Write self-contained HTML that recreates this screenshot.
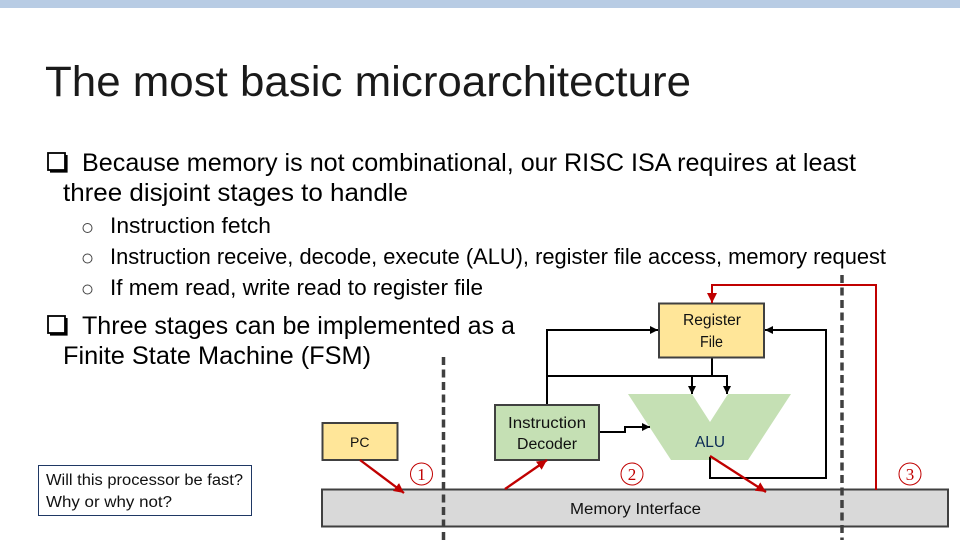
<!DOCTYPE html>
<html><head><meta charset="utf-8"><style>
html,body{margin:0;padding:0;background:#fff}
svg{display:block}
text{font-family:"Liberation Sans",sans-serif;fill:#000}
.l{font-size:25px}.s{font-size:22px}.b{font-size:15.5px;fill:#111}
.n{font-family:"Liberation Serif",serif;font-size:17px;fill:#c00000}
</style></head><body>
<svg width="960" height="540" viewBox="0 0 960 540" xmlns="http://www.w3.org/2000/svg">
<defs>
<marker id="k" markerUnits="userSpaceOnUse" markerWidth="10" markerHeight="10" refX="8" refY="5" orient="auto"><path d="M0 1L8 5L0 9z" fill="#000"/></marker>
<marker id="r" markerUnits="userSpaceOnUse" markerWidth="12" markerHeight="12" refX="10" refY="6" orient="auto"><path d="M0 1L10 6L0 11z" fill="#c00000"/></marker>
</defs>
<rect width="960" height="8" fill="#b8cce4"/>
<text x="45" y="96" font-size="43" textLength="646" lengthAdjust="spacingAndGlyphs" style="fill:#1a1a1a">The most basic microarchitecture</text>

<rect x="48" y="153" width="17" height="17" fill="none" stroke="#000" stroke-width="1.800"/><path d="M50 171.300H66.300V155" fill="none" stroke="#000" stroke-width="2.600"/>
<text class="l" x="82" y="171" textLength="774" lengthAdjust="spacingAndGlyphs">Because memory is not combinational, our RISC ISA requires at least</text>
<text class="l" x="63" y="201" textLength="345" lengthAdjust="spacingAndGlyphs">three disjoint stages to handle</text>

<circle cx="87.500" cy="228" r="4.500" fill="none" stroke="#444" stroke-width="1"/>
<circle cx="87.500" cy="258.500" r="4.500" fill="none" stroke="#444" stroke-width="1"/>
<circle cx="87.500" cy="289.500" r="4.500" fill="none" stroke="#444" stroke-width="1"/>
<text class="s" x="110" y="233" textLength="161" lengthAdjust="spacingAndGlyphs">Instruction fetch</text>
<text class="s" x="110" y="264" textLength="776" lengthAdjust="spacingAndGlyphs">Instruction receive, decode, execute (ALU), register file access, memory request</text>
<text class="s" x="110" y="295" textLength="373" lengthAdjust="spacingAndGlyphs">If mem read, write read to register file</text>

<rect x="48" y="316" width="17" height="17" fill="none" stroke="#000" stroke-width="1.800"/><path d="M50 334.300H66.300V318" fill="none" stroke="#000" stroke-width="2.600"/>
<text class="l" x="82" y="334" textLength="433" lengthAdjust="spacingAndGlyphs">Three stages can be implemented as a</text>
<text class="l" x="63" y="364" textLength="308" lengthAdjust="spacingAndGlyphs">Finite State Machine (FSM)</text>

<rect x="322" y="489.500" width="626" height="37" fill="#d9d9d9" stroke="#404040" stroke-width="2"/>
<polygon points="628,394 692,394 710,422 728,394 791,394 748,460 671,460" fill="#c5e0b4"/>

<g fill="none" stroke="#000" stroke-width="2">
<path d="M547 405V330H658" marker-end="url(#k)"/>
<path d="M547 376H727V394" marker-end="url(#k)"/>
<path d="M692 376V394" marker-end="url(#k)"/>
<path d="M712 357V376"/>
<path d="M599 432H625V427H650" marker-end="url(#k)"/>
<path d="M710 457V478H826V330H765" marker-end="url(#k)"/>
</g>

<rect x="659" y="303.500" width="105" height="54" fill="#ffe699" stroke="#404040" stroke-width="2"/>
<rect x="322.500" y="423" width="75" height="37" fill="#ffe699" stroke="#404040" stroke-width="2"/>
<rect x="495" y="405" width="104" height="55" fill="#c5e0b4" stroke="#404040" stroke-width="2"/>

<g fill="none" stroke="#404040" stroke-width="3.500" stroke-dasharray="8 4.500">
<path d="M443.500 357V540"/>
<path d="M842 275V540"/>
</g>

<g fill="none" stroke="#c00000" stroke-width="2">
<path d="M876 490V285H712V303" marker-end="url(#r)"/>
<path d="M360 460L404 493" marker-end="url(#r)" stroke-width="2.300"/>
<path d="M505 489L547 460" marker-end="url(#r)" stroke-width="2.300"/>
<path d="M710 456L766 492" marker-end="url(#r)" stroke-width="2.300"/>
</g>

<text class="b" x="683" y="325" textLength="58" lengthAdjust="spacingAndGlyphs">Register</text>
<text class="b" x="700" y="347" textLength="23" lengthAdjust="spacingAndGlyphs">File</text>
<text class="b" x="508" y="428" textLength="78" lengthAdjust="spacingAndGlyphs">Instruction</text>
<text class="b" x="517" y="449" textLength="60" lengthAdjust="spacingAndGlyphs">Decoder</text>
<text x="350" y="447" font-size="14" style="fill:#111">PC</text>
<text class="b" x="695" y="447" textLength="30" lengthAdjust="spacingAndGlyphs" style="fill:#0b2a55">ALU</text>
<text class="b" x="570" y="514" textLength="131" lengthAdjust="spacingAndGlyphs">Memory Interface</text>

<rect x="38.500" y="465.500" width="213" height="50" fill="#fff" stroke="#1f3864" stroke-width="1"/>
<text class="b" x="46" y="485" textLength="197" lengthAdjust="spacingAndGlyphs">Will this processor be fast?</text>
<text class="b" x="46" y="507" textLength="126" lengthAdjust="spacingAndGlyphs">Why or why not?</text>

<g fill="none" stroke="#c00000" stroke-width="1">
<circle cx="421.500" cy="474" r="11"/>
<circle cx="632" cy="474" r="11"/>
<circle cx="910" cy="474" r="11"/>
</g>
<g text-anchor="middle">
<text class="n" x="421.500" y="480">1</text>
<text class="n" x="632" y="480">2</text>
<text class="n" x="910" y="480">3</text>
</g>
</svg>
</body></html>
